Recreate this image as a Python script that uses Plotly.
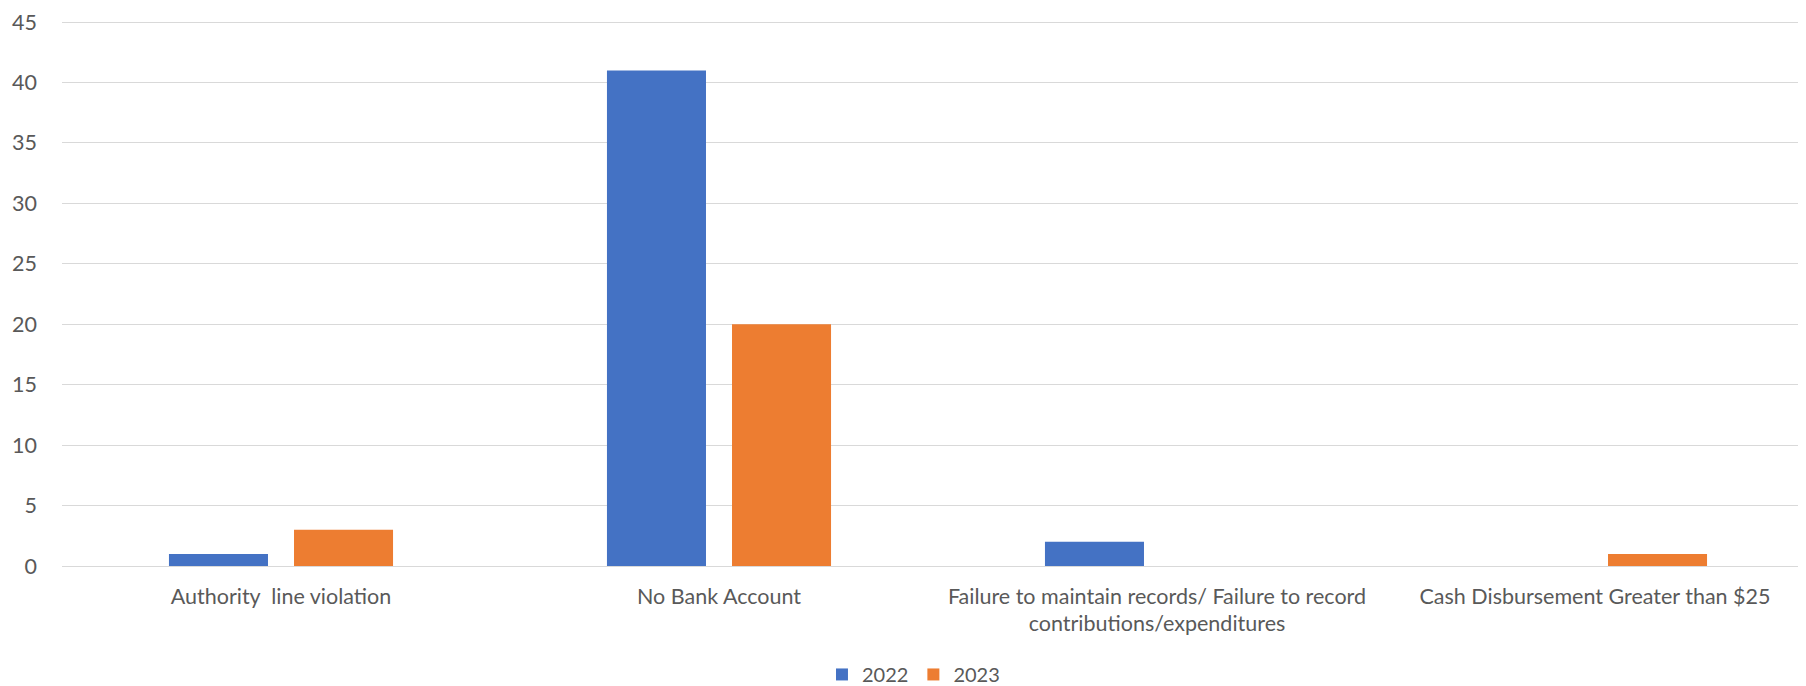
import plotly.graph_objects as go

categories = [
    "Authority  line violation",
    "No Bank Account",
    "Failure to maintain records/ Failure to record<br>contributions/expenditures",
    "Cash Disbursement Greater than $25",
]
values_2022 = [1, 41, 2, 0]
values_2023 = [3, 20, 0, 1]
y_ticks = [0, 5, 10, 15, 20, 25, 30, 35, 40, 45]

FONT = "Lato"
TXT = "#595959"
FS = 21.5

fig = go.Figure()
fig.add_trace(go.Bar(name="2022", x=categories, y=values_2022,
                     marker=dict(color="#4472C4", line=dict(width=0))))
fig.add_trace(go.Bar(name="2023", x=categories, y=values_2023,
                     marker=dict(color="#ED7D31", line=dict(width=0))))

fig.update_layout(
    width=1806, height=686,
    margin=dict(l=54, r=0, t=13, b=123),
    paper_bgcolor="white", plot_bgcolor="white",
    barmode="group", bargap=0.429, bargroupgap=0.208,
    font=dict(family=FONT, size=FS, color=TXT),
    showlegend=True,
    legend=dict(orientation="h", x=0.486, xanchor="center", y=-0.199, yanchor="middle",
                font=dict(family=FONT, size=20, color=TXT), itemwidth=30,
                traceorder="normal"),
    hovermode=False,
)
fig.update_xaxes(showgrid=False, showline=False, ticks="", tickfont=dict(size=FS, color=TXT),
                 ticklabelstandoff=15, automargin=False)
fig.update_yaxes(range=[0, 45.09], tickvals=y_ticks, showgrid=True, gridcolor="#D9D9D9",
                 gridwidth=1.3, zeroline=True, zerolinecolor="#D9D9D9", zerolinewidth=1.3,
                 showline=False, ticks="", tickfont=dict(size=FS, color=TXT),
                 ticklabelstandoff=24, automargin=False)

fig.write_html("out.html")
